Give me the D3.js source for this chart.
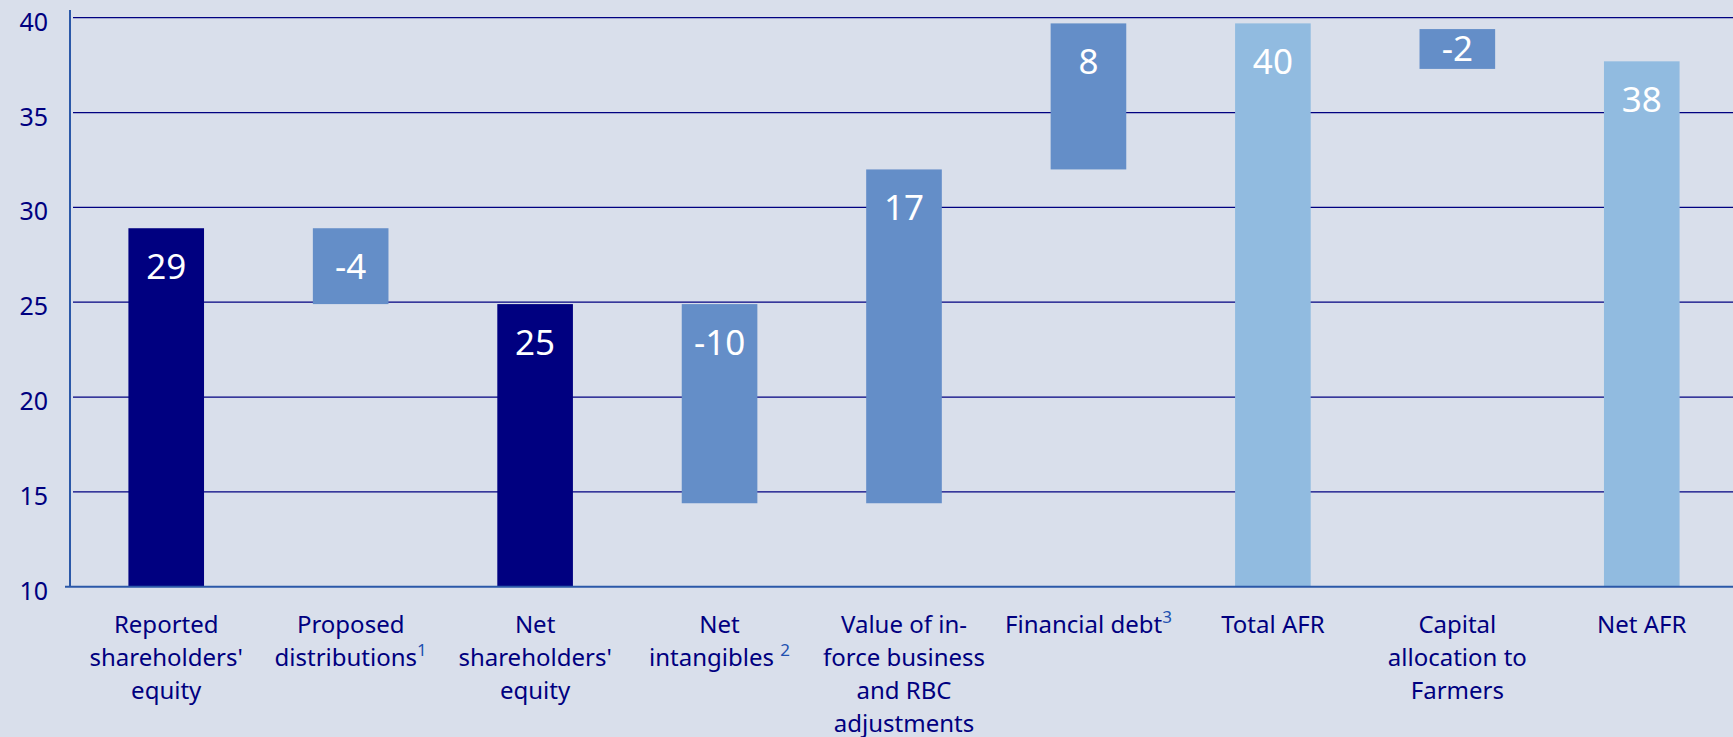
<!DOCTYPE html>
<html>
<head>
<meta charset="utf-8">
<script src="https://cdn.jsdelivr.net/npm/d3@7"></script>
<style>
body { margin: 0; background: #d9dfeb; }
svg { display: block; }
</style>
</head>
<body>
<script>
// categories, one entry per line of the axis label
var categories = [
    ["Reported", "shareholders'", "equity"],
    ["Proposed", "distributions"],
    ["Net", "shareholders'", "equity"],
    ["Net", "intangibles "],
    ["Value of in-", "force business", "and RBC", "adjustments"],
    ["Financial debt"],
    ["Total AFR"],
    ["Capital", "allocation to", "Farmers"],
    ["Net AFR"]
];
var footnotes = ["", "1", "", "2", "", "3", "", "", ""];
var valueLabels = ["29", "-4", "25", "-10", "17", "8", "40", "-2", "38"];
var barFrom = [0, 24.9, 0, 14.4, 14.4, 32.0, 0, 37.3, 0];
var barTo = [28.9, 28.9, 24.9, 24.9, 32.0, 39.7, 39.7, 39.4, 37.7];
var barKind = ["equity", "change", "equity", "change", "change", "change", "afr", "change", "afr"];
var yTicks = [10, 15, 20, 25, 30, 35, 40];

var W = 1733, H = 737;
var plotLeft = 70, plotTop = 17.7, plotBottom = 586.7;
var navy = "#000080";
var colors = { equity: "#000080", change: "#648ec8", afr: "#91bbe0" };
var font = "'Noto Sans', sans-serif";

var svg = d3.select("body")
    .append("svg")
    .attr("width", W)
    .attr("height", H);

var idx = d3.range(categories.length);
var x = d3.scaleBand()
    .domain(idx)
    .range([74, 1734])
    .paddingInner(0.59)
    .paddingOuter(0.295);
var y = d3.scaleLinear()
    .domain([10, 40])
    .range([plotBottom, plotTop])
    .clamp(true);

// gridlines
svg.append("g")
    .selectAll("line")
    .data(yTicks.slice(1))
    .join("line")
    .attr("x1", 73)
    .attr("x2", W)
    .attr("y1", function (d) { return y(d); })
    .attr("y2", function (d) { return y(d); })
    .attr("stroke", navy)
    .attr("stroke-width", 1.3);

// y tick labels
var yAxis = svg.append("g")
    .attr("transform", "translate(" + plotLeft + ",0)")
    .call(d3.axisLeft(y).tickValues(yTicks).tickSize(0).tickPadding(22));
yAxis.select(".domain").remove();
yAxis.selectAll("text")
    .attr("dy", "0.5em")
    .attr("fill", navy)
    .attr("font-family", font)
    .attr("font-size", 25);

// bars
svg.append("g")
    .selectAll("rect")
    .data(idx)
    .join("rect")
    .attr("x", function (i) { return x(i); })
    .attr("width", x.bandwidth())
    .attr("y", function (i) { return y(barTo[i]); })
    .attr("height", function (i) { return y(barFrom[i]) - y(barTo[i]); })
    .attr("fill", function (i) { return colors[barKind[i]]; });

// value labels
svg.append("g")
    .selectAll("text")
    .data(idx)
    .join("text")
    .attr("x", function (i) { return x(i) + x.bandwidth() / 2; })
    .attr("y", function (i) {
        var t = y(barTo[i]), b = y(barFrom[i]);
        return Math.min(t + 51, (t + b) / 2 + 12.5);
    })
    .attr("text-anchor", "middle")
    .attr("fill", "#ffffff")
    .attr("font-family", font)
    .attr("font-size", 35)
    .text(function (i) { return valueLabels[i]; });

// axis lines
svg.append("line")
    .attr("x1", plotLeft)
    .attr("x2", plotLeft)
    .attr("y1", 10)
    .attr("y2", plotBottom)
    .attr("stroke", "#2b58a8")
    .attr("stroke-width", 2);
svg.append("line")
    .attr("x1", 65)
    .attr("x2", W)
    .attr("y1", plotBottom)
    .attr("y2", plotBottom)
    .attr("stroke", "#2b58a8")
    .attr("stroke-width", 2);

// category labels
var cat = svg.append("g")
    .selectAll("text")
    .data(idx)
    .join("text")
    .attr("text-anchor", "middle")
    .attr("fill", navy)
    .attr("font-family", font)
    .attr("font-size", 24);
cat.each(function (i) {
    var t = d3.select(this);
    var cx = x(i) + x.bandwidth() / 2;
    categories[i].forEach(function (line, k) {
        t.append("tspan")
            .attr("x", cx)
            .attr("y", 633 + k * 33)
            .text(line);
        if (k === categories[i].length - 1 && footnotes[i]) {
            t.append("tspan")
                .attr("dy", -10)
                .attr("font-size", 17)
                .attr("fill", "#2050b0")
                .text(footnotes[i]);
        }
    });
});
</script>
</body>
</html>
